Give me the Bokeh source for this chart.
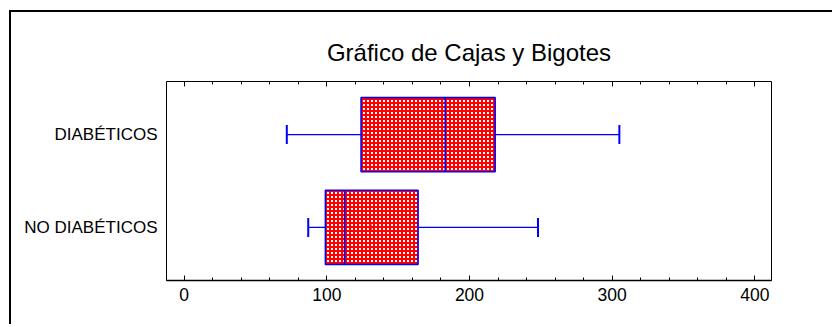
import numpy as np
from bokeh.plotting import figure
from bokeh.models import ColumnDataSource, Range1d, FactorRange, FixedTicker, LinearAxis
from bokeh.embed import file_html
from bokeh.resources import INLINE

# ---- data ----
categories = ["DIABÉTICOS", "NO DIABÉTICOS"]
whisker_low = [72, 87]
q1 = [124, 99]
median = [183, 112.5]
q3 = [218, 164]
whisker_high = [305, 248]
mean = [175, 131]

major_ticks = [0, 100, 200, 300, 400]
minor_ticks = [20, 40, 60, 80, 120, 140, 160, 180, 220, 240, 260, 280, 320, 340, 360, 380]

BLUE = "#0000FF"
RED = "#FF0000"
FONT = "Liberation Sans"

src = ColumnDataSource(dict(cat=categories, lo=whisker_low, q1=q1, med=median,
                            q3=q3, hi=whisker_high, mean=mean))

W, H = 823, 314
p = figure(width=W, height=H,
           x_range=Range1d(-12.3, 411.6),
           y_range=FactorRange(factors=categories[::-1], range_padding=0.0715,
                               range_padding_units="absolute"),
           output_backend="svg", toolbar_location=None,
           min_border_left=155, min_border_right=W - 760,
           min_border_top=69, min_border_bottom=H - 268,
           x_axis_location=None, y_axis_location="left",
           title="Gráfico de Cajas y Bigotes")

p.styles = {"border-top": "2px solid black", "border-left": "2px solid black",
            "margin-left": "9px", "margin-top": "10px"}

p.title.align = "center"
p.title.text_font = FONT
p.title.text_font_style = "normal"
p.title.text_font_size = "24px"
p.title.text_color = "black"
p.title.standoff = 32

p.grid.visible = False
p.outline_line_color = "black"
p.outline_line_width = 1
p.background_fill_color = "white"
p.border_fill_color = "white"

ticker = FixedTicker(ticks=major_ticks, minor_ticks=minor_ticks)

bottom = LinearAxis(ticker=ticker, major_tick_in=5, major_tick_out=0,
                    minor_tick_in=3, minor_tick_out=0,
                    axis_line_color="black", axis_line_width=1.5,
                    major_tick_line_color="black", minor_tick_line_color="black",
                    major_label_standoff=7,
                    major_label_text_font=FONT, major_label_text_font_size="17.5px",
                    major_label_text_color="black")
p.add_layout(bottom, "below")

top = LinearAxis(ticker=ticker, major_tick_in=5, major_tick_out=0,
                 minor_tick_in=3, minor_tick_out=0,
                 axis_line_color=None,
                 major_tick_line_color="black", minor_tick_line_color="black",
                 major_label_standoff=0, major_label_text_font_size="1px",
                 major_label_text_color=None)
p.add_layout(top, "above")

yax = p.yaxis[0]
yax.axis_line_color = None
yax.major_tick_line_color = None
yax.minor_tick_line_color = None
yax.major_tick_out = 0
yax.major_tick_in = 0
yax.major_label_standoff = 9
yax.major_label_text_font = FONT
yax.major_label_text_font_size = "17px"
yax.major_label_text_color = "black"

# whiskers
p.segment(x0="lo", y0="cat", x1="q1", y1="cat", source=src, line_color=BLUE, line_width=1.2)
p.segment(x0="q3", y0="cat", x1="hi", y1="cat", source=src, line_color=BLUE, line_width=1.2)
p.scatter(x="lo", y="cat", source=src, marker="dash", angle=np.pi / 2, size=19,
          line_color=BLUE, line_width=2)
p.scatter(x="hi", y="cat", source=src, marker="dash", angle=np.pi / 2, size=19,
          line_color=BLUE, line_width=2)

# boxes
p.hbar(y="cat", left="q1", right="q3", height=0.8, source=src,
       fill_color="white", hatch_pattern="cross", hatch_color=RED,
       hatch_scale=4, hatch_weight=2, line_color=BLUE, line_width=1.5)
# medians
p.hbar(y="cat", left="med", right="med", height=0.8, source=src,
       fill_color=None, line_color=BLUE, line_width=1.5)
# means
p.scatter(x="mean", y="cat", source=src, marker="cross", size=6,
          line_color=RED, line_width=1.5)

open("out.html", "w").write(file_html(p, INLINE))
